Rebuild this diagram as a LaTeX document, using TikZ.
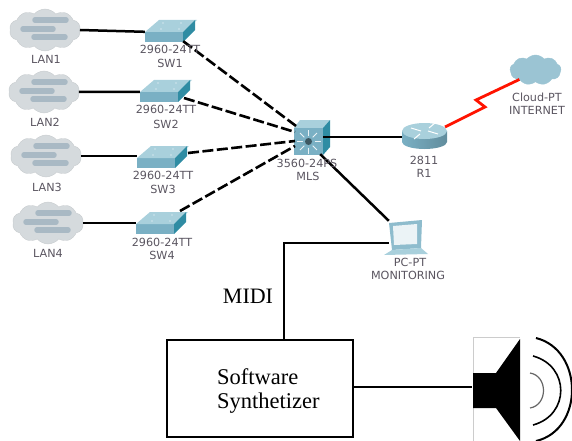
\documentclass[tikz,border=0pt]{standalone}
\usepackage{fontspec}
\setmainfont{Liberation Serif}
\newfontfamily\devfont{DejaVu Sans}
\usetikzlibrary{shapes.symbols}
\definecolor{lbl}{HTML}{5A5560}
\definecolor{swtop}{HTML}{A9D0DC}
\definecolor{swfront}{HTML}{7AB0C4}
\definecolor{swside}{HTML}{2F8CA3}
\definecolor{cloudg}{HTML}{D5DADD}
\definecolor{cloudb}{HTML}{A9B9C4}
\tikzset{
 lab/.style={font=\devfont\fontsize{11.2}{13}\selectfont, text=lbl, inner sep=0pt, align=center},
 solidlink/.style={line width=2.5pt, black},
 dashlink/.style={line width=2.6pt, black, dash pattern=on 11pt off 3.5pt},
 cloudshape/.style={cloud, cloud puffs=10, cloud puff arc=100, aspect=1.7, inner sep=0pt, draw=#1!85!gray, fill=#1, minimum width=71pt, minimum height=42pt},
 bar/.style={line width=5.5pt, cloudb, line cap=round},
 bigtext/.style={font=\fontsize{22.5}{26}\selectfont, inner sep=0pt, anchor=west}
}
\newcommand{\lancloud}[3]{% name, x, y
 \node[cloudshape=cloudg] (#1) at (#2,#3) {};
 \draw[bar] (#2-10,#3-10) -- (#2+21,#3-10);
 \draw[bar] (#2-22,#3-1) -- (#2+8,#3-1);
 \draw[bar] (#2-11,#3+7) -- (#2+20,#3+7);
}
\newcommand{\swbox}[3]{% name, front-left x, front-top y
 \fill[swfront] (#2,#3) rectangle ++(38,10);
 \fill[swtop] (#2,#3) -- ++(14,-12) -- ++(38,0) -- ++(-14,12) -- cycle;
 \fill[swside] (#2+38,#3) -- ++(12,-12) -- ++(0,10) -- ++(-12,12) -- cycle;
 \fill[white] (#2+16,#3-3) circle (.7) (#2+34,#3-3) circle (.7) (#2+18,#3-9) circle (.7) (#2+36,#3-9) circle (.7);
 \node[inner sep=0pt, minimum width=38pt, minimum height=10pt] (#1) at (#2+19,#3+5) {};
}
\begin{document}
\begin{tikzpicture}[x=1pt,y=-1pt]
\useasboundingbox (0,0) rectangle (572,441);
% clouds
\lancloud{lan1}{45}{30}
\lancloud{lan2}{44}{92}
\lancloud{lan3}{46}{156}
\lancloud{lan4}{48}{223}
% switches
\swbox{sw1}{145}{32}
\swbox{sw2}{140}{92}
\swbox{sw3}{137}{158}
\swbox{sw4}{136}{224}
% MLS
\fill[swtop] (300,120) -- (330,120) -- (323,128) -- (294,128) -- cycle;
\fill[swside] (323,128) -- (330,120) -- (330,147) -- (323,155) -- cycle;
\fill[swfront] (294,128) rectangle (323,155);
\node[inner sep=0pt, minimum width=29pt, minimum height=27pt] (mls) at (308.5,141.5) {};
\foreach \a in {0,45,...,315} \draw[white!85!swfront, line width=1pt] (308.5,141.5) ++(\a:6) -- ++(\a:6);
\fill[swfront!50!black] (308.5,141.5) circle (3.5);
% router
\shade[left color=swfront, middle color=white, right color=swfront!80!black] (402,131) -- (402,142) arc[start angle=180,end angle=360,x radius=22.5,y radius=-7] -- (447,131) -- cycle;
\fill[swtop] (424.5,131) ellipse (22.5 and 8);
\node[inner sep=0pt, minimum width=45pt, minimum height=26pt] (r1) at (424.5,137) {};
\draw[white, line width=1pt] (411,128) -- (421,131) (428,131) -- (438,134) (429,128) -- (435,123) (420,134) -- (414,139);
% internet cloud
\node[cloud, cloud puffs=9, cloud puff arc=100, aspect=1.7, inner sep=0pt, fill=swfront!75!white, draw=swfront!75!white, minimum width=51pt, minimum height=30pt] (inet) at (535.5,70) {};
% PC
\fill[swfront!85!white] (389,223) -- (422,220) -- (421,248) -- (392,250) -- cycle;
\fill[white!85!swfront] (393,226) -- (417,224) -- (417,244) -- (394,245) -- cycle;
\fill[swtop] (384,255) -- (392,250) -- (421,248) -- (428,254) -- cycle;
\node[inner sep=0pt, minimum width=33pt, minimum height=30pt] (pc) at (405.5,236) {};
% links
\draw[solidlink] (lan1.east) -- (sw1.north west);
\draw[solidlink] (lan2.east) -- (sw2.north west);
\draw[solidlink] (lan3.east) -- (lan3.east -| sw3.west);
\draw[solidlink] (lan4.east) -- (lan4.east -| sw4.west);
\coordinate (m1) at (296,126);
\coordinate (m2) at (295,132);
\coordinate (m3) at (295,141);
\coordinate (m4) at (295,146);
\coordinate (d2) at (184,98);
\coordinate (d3) at (188,153);
\coordinate (d4) at (180,211);
\draw[dashlink] (sw1.south east) ++(0,-1) -- (m1);
\draw[dashlink] (d2) -- (m2);
\draw[dashlink] (d3) -- (m3);
\draw[dashlink] (d4) -- (m4);
\draw[solidlink] (mls.east |- r1) -- (r1.west);
\draw[solidlink] (mls.south east) ++(-3,-1) -- (pc.north west);
\coordinate (rout) at (445,127);
\draw[red!85!orange, line width=2.8pt] (rout) -- (485,107) -- (476,100) -- (inet.south west);
% labels
\node[lab] at (46,59) {LAN1};
\node[lab] at (45,122) {LAN2};
\node[lab] at (47,187) {LAN3};
\node[lab] at (48,253) {LAN4};
\node[lab] at (170,49) {2960-24TT};
\node[lab] at (170,63) {SW1};
\node[lab] at (166,109) {2960-24TT};
\node[lab] at (166,124) {SW2};
\node[lab] at (163,175) {2960-24TT};
\node[lab] at (163,189) {SW3};
\node[lab] at (162,242) {2960-24TT};
\node[lab] at (162,255) {SW4};
\node[lab] at (307,163) {3560-24PS};
\node[lab] at (308,176) {MLS};
\node[lab] at (424,160) {2811};
\node[lab] at (424,173) {R1};
\node[lab] at (537,97) {Cloud-PT};
\node[lab] at (537,110) {INTERNET};
\node[lab] at (410,262) {PC-PT};
\node[lab] at (408,275) {MONITORING};
% synth box
\node[draw=black, line width=2.2pt, minimum width=186pt, minimum height=97pt, inner sep=0pt] (synth) at (260,388.5) {};
\node[bigtext] at (217,377) {Software};
\node[bigtext] at (217,403) {Synthetizer};
\node[font=\fontsize{22}{26}\selectfont, inner sep=0pt] at (248,296) {MIDI};
% MIDI link
\coordinate (midicorner) at (284,243);
\draw[solidlink] (synth.north -| midicorner) -- (midicorner) -- (midicorner -| pc.west);
% speaker
\draw[gray!40, line width=1pt] (473,441) -- (473,337) -- (520,337);
\fill[black] (473,373) -- (496,373) -- (520,339) -- (520,441) -- (496,408) -- (473,408) -- cycle;
\node[inner sep=0pt, minimum width=1pt, minimum height=35pt] (spk) at (473,390.5) {};
\draw[solidlink] (synth.east |- 0,387) -- (spk.west |- 0,387);
\draw[gray!80!black, line width=1.2pt] (530,373) .. controls (548,376) and (548,405) .. (530,408);
\draw[black, line width=1.6pt] (533,356) .. controls (570,366) and (570,415) .. (533,425);
\draw[black, line width=2pt] (536,338) .. controls (584,350) and (584,430) .. (536,441);
\end{tikzpicture}
\end{document}
